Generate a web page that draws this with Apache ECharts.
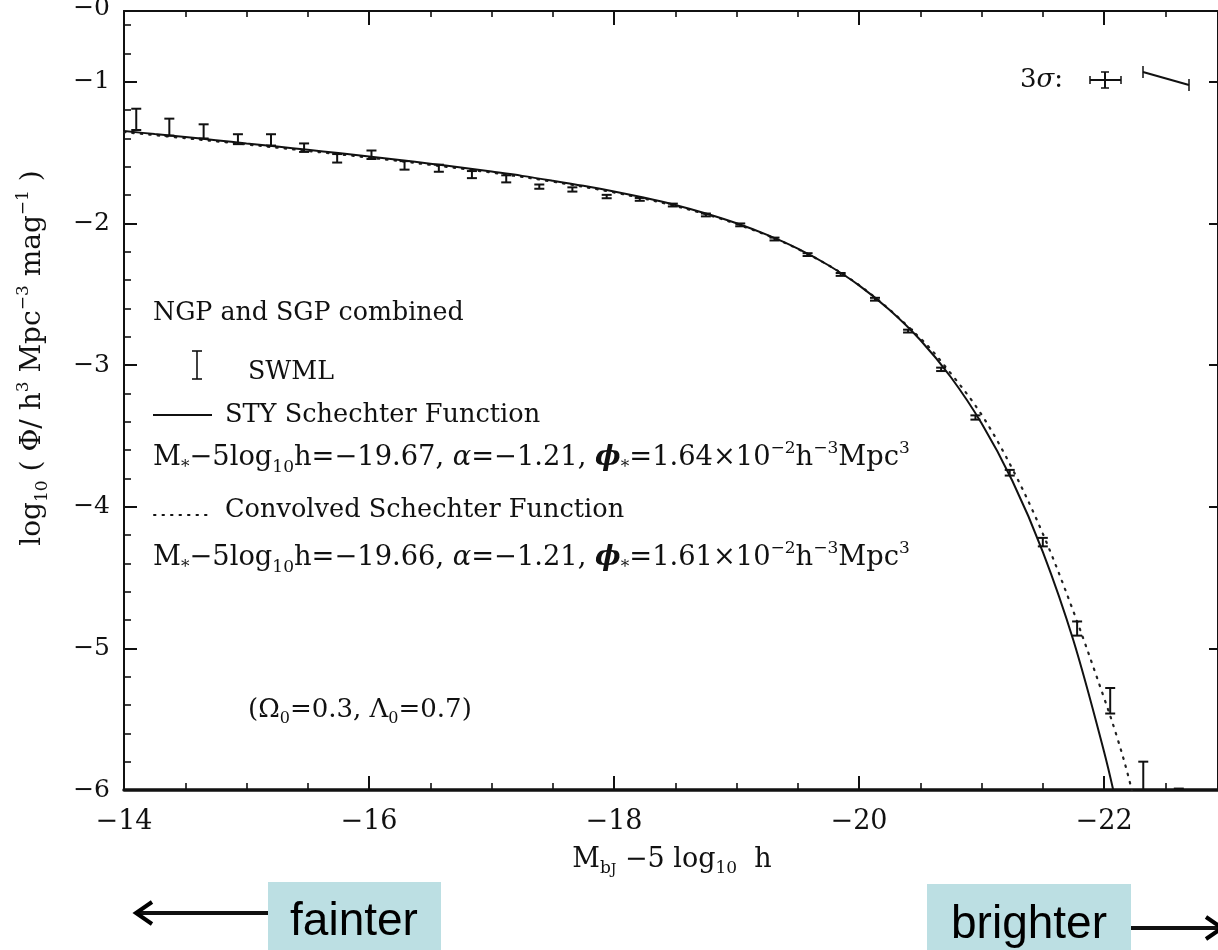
<!DOCTYPE html>
<html>
<head>
<meta charset="utf-8">
<title>2dFGRS b_J luminosity function</title>
<script src="https://cdn.jsdelivr.net/npm/echarts@6/dist/echarts.min.js"></script>
<style>
  html, body { margin: 0; padding: 0; background: #ffffff; }
  #chart { width: 1218px; height: 950px; }
</style>
</head>
<body>
<div id="chart"></div>
<script>
// ---- SWML estimate: bin magnitude, log10 Phi and its 1-sigma error ----
const swmlMag = [-14.10, -14.37, -14.65, -14.93, -15.20, -15.47, -15.74, -16.02,
                 -16.29, -16.57, -16.84, -17.12, -17.39, -17.66, -17.94, -18.21,
                 -18.48, -18.75, -19.03, -19.31, -19.58, -19.85, -20.13, -20.40,
                 -20.67, -20.95, -21.23, -21.50, -21.78, -22.05, -22.32, -22.61];
const swmlLogPhi = [-1.265, -1.32, -1.35, -1.405, -1.41, -1.465, -1.54, -1.515,
                    -1.59, -1.61, -1.655, -1.685, -1.74, -1.76, -1.81, -1.83,
                    -1.87, -1.94, -2.01, -2.11, -2.22, -2.36, -2.535, -2.76,
                    -3.03, -3.37, -3.76, -4.25, -4.86, -5.37, -5.93, -6.08];
const swmlErr = [0.075, 0.06, 0.05, 0.035, 0.04, 0.03, 0.03, 0.03,
                 0.03, 0.025, 0.025, 0.025, 0.015, 0.015, 0.012, 0.01,
                 0.01, 0.01, 0.01, 0.01, 0.01, 0.01, 0.01, 0.01,
                 0.012, 0.015, 0.02, 0.03, 0.05, 0.09, 0.13, 0.09];

// ---- STY Schechter fit (solid) ----
const styMag = [-14, -14.25, -14.5, -14.75, -15, -15.25, -15.5, -15.75, -16, -16.25,
                -16.5, -16.75, -17, -17.25, -17.5, -17.75, -18, -18.25, -18.5, -18.75,
                -19, -19.25, -19.5, -19.75, -20, -20.25, -20.5, -20.75, -21, -21.25,
                -21.5, -21.75, -22, -22.1];
const styLogPhi = [-1.347, -1.369, -1.390, -1.412, -1.435, -1.457, -1.480, -1.503, -1.527, -1.552,
                   -1.578, -1.605, -1.634, -1.664, -1.698, -1.734, -1.774, -1.819, -1.870, -1.930,
                   -1.999, -2.081, -2.178, -2.295, -2.437, -2.611, -2.823, -3.086, -3.411, -3.815,
                   -4.318, -4.945, -5.730, -6.097];

// ---- Convolved Schechter function (dotted) ----
const convMag = [-14, -14.5, -15, -15.5, -16, -16.5, -17, -17.5, -18, -18.5,
                 -19, -19.5, -20, -20.5, -20.75, -21, -21.25, -21.5, -21.75, -22,
                 -22.1, -22.2, -22.3];
const convLogPhi = [-1.355, -1.398, -1.442, -1.488, -1.535, -1.586, -1.641, -1.705, -1.781, -1.877,
                    -2.004, -2.180, -2.435, -2.81, -3.06, -3.35, -3.73, -4.19, -4.74, -5.35,
                    -5.61, -5.91, -6.28];

// ---- axis ticks ----
const xMajorTicks = [-14, -16, -18, -20, -22];
const xMinorTicks = [-14.5, -15, -15.5, -16.5, -17, -17.5, -18.5, -19, -19.5,
                     -20.5, -21, -21.5, -22.5];
const yMajorTicks = [-6, -5, -4, -3, -2, -1];
const yMinorTicks = [-5.8, -5.6, -5.4, -5.2, -4.8, -4.6, -4.4, -4.2, -3.8, -3.6, -3.4, -3.2,
                     -2.8, -2.6, -2.4, -2.2, -1.8, -1.6, -1.4, -1.2, -0.8, -0.6];

const X_MIN = -22.93, X_MAX = -14, Y_MIN = -6, Y_MAX = -0.5;
const INK = '#111111';
const SERIF = '"DejaVu Serif", "Liberation Serif", serif';
const minus = v => (v < 0 ? '\u2212' + Math.abs(v) : String(v));

// rich-text styles for sub/superscripts at a given base size
function richStyles(size) {
  const small = Math.round(size * 0.62);
  return {
    n: { fontFamily: SERIF, fontSize: size, lineHeight: size + 8, fill: INK, color: INK },
    i: { fontFamily: SERIF, fontSize: size, lineHeight: size + 8, fontStyle: 'italic', fill: INK, color: INK },
    b: { fontFamily: SERIF, fontSize: size, lineHeight: size + 8, fontStyle: 'italic', fontWeight: 'bold', fill: INK, color: INK },
    sub: { fontFamily: SERIF, fontSize: small, lineHeight: small, verticalAlign: 'bottom', fill: INK, color: INK },
    sup: { fontFamily: SERIF, fontSize: small, lineHeight: small + 6, verticalAlign: 'top', fill: INK, color: INK },
    ssub: { fontFamily: SERIF, fontSize: Math.round(small * 0.8), lineHeight: 4, verticalAlign: 'bottom', fill: INK, color: INK }
  };
}

function textEl(x, y, text, size, extra) {
  return Object.assign({
    type: 'text', x: x, y: y, silent: true,
    style: Object.assign({
      text: text, rich: richStyles(size),
      font: size + 'px ' + SERIF, fill: INK,
      align: 'left', verticalAlign: 'middle'
    }, (extra && extra.style) || {})
  }, (extra && extra.el) || {});
}
function seg(x1, y1, x2, y2, w, dash) {
  const st = { stroke: INK, lineWidth: w || 2 };
  if (dash) { st.lineDash = dash; st.lineCap = 'round'; }
  return { type: 'line', silent: true, shape: { x1: x1, y1: y1, x2: x2, y2: y2 }, style: st };
}

const chart = echarts.init(document.getElementById('chart'), null, { renderer: 'canvas' });

const baseX = { type: 'value', min: X_MIN, max: X_MAX, inverse: true, splitLine: { show: false } };
const baseY = { type: 'value', min: Y_MIN, max: Y_MAX, splitLine: { show: false } };

const graphicEls = [
  // clipped tick label at the very top of the frame
  textEl(110, 8, '\u22120', 25, { style: { align: 'right' } }),

  // y-axis title
  textEl(33, 358,
    '{n|log}{sub|10}{n| ( \u03A6/ h}{sup|3}{n| Mpc}{sup|\u22123}{n| mag}{sup|\u22121}{n| )}', 28,
    { style: { align: 'center' }, el: { rotation: Math.PI / 2 } }),

  // x-axis title
  textEl(672, 860,
    '{n|M}{sub|b}{ssub|J}{n| \u22125 log}{sub|10}{n|  h}', 27, { style: { align: 'center' } }),

  // legend block
  textEl(153, 313, '{n|NGP and SGP combined}', 25.3),
  seg(197, 351, 197, 379, 1.6), seg(192, 351, 202, 351, 1.6), seg(192, 379, 202, 379, 1.6),
  textEl(248, 372, '{n|SWML}', 25.3),
  seg(153, 415, 212, 415, 2),
  textEl(225, 415, '{n|STY Schechter Function}', 25.6),
  textEl(153, 458,
    '{n|M}{sub|*}{n|\u22125log}{sub|10}{n|h=\u221219.67, }{i|\u03B1}{n|=\u22121.21, }{b|\u03D5}{sub|*}{n|=1.64\u00D710}{sup|\u22122}{n|h}{sup|\u22123}{n|Mpc}{sup|3}', 27.3),
  seg(154, 515, 212, 515, 2, [1.5, 7]),
  textEl(225, 510, '{n|Convolved Schechter Function}', 25.6),
  textEl(153, 558,
    '{n|M}{sub|*}{n|\u22125log}{sub|10}{n|h=\u221219.66, }{i|\u03B1}{n|=\u22121.21, }{b|\u03D5}{sub|*}{n|=1.61\u00D710}{sup|\u22122}{n|h}{sup|\u22123}{n|Mpc}{sup|3}', 27.3),
  textEl(248, 710, '{n|(\u03A9}{sub|0}{n|=0.3, \u039B}{sub|0}{n|=0.7)}', 26),

  // 3-sigma systematic error glyphs
  textEl(1020, 80, '{n|3}{i|\u03C3}{n|:}', 26),
  seg(1090, 80, 1121, 80, 2), seg(1090, 76, 1090, 84, 1.5), seg(1121, 76, 1121, 84, 1.5),
  seg(1105, 72, 1105, 88, 2), seg(1101, 72, 1109, 72, 1.5), seg(1101, 88, 1109, 88, 1.5),
  seg(1143, 72, 1189, 85, 2), seg(1143, 66, 1143, 78, 1.5), seg(1189, 79, 1189, 91, 1.5),

  // direction hints below the axis
  { type: 'rect', silent: true, shape: { x: 268, y: 882, width: 173, height: 80 }, style: { fill: '#bcdfe3' } },
  { type: 'rect', silent: true, shape: { x: 927, y: 884, width: 204, height: 80 }, style: { fill: '#bcdfe3' } },
  { type: 'text', silent: true, x: 354, y: 922, style: { text: 'fainter', font: '46px "Liberation Sans", Arial, sans-serif', fill: '#000', align: 'center', verticalAlign: 'middle' } },
  { type: 'text', silent: true, x: 1029, y: 925, style: { text: 'brighter', font: '46px "Liberation Sans", Arial, sans-serif', fill: '#000', align: 'center', verticalAlign: 'middle' } },
  seg(268, 913, 137, 913, 4),
  { type: 'polyline', silent: true, shape: { points: [[152, 902], [136, 913], [152, 924]] }, style: { stroke: '#000', lineWidth: 4, fill: null } },
  seg(1131, 928, 1218, 928, 4),
  { type: 'polyline', silent: true, shape: { points: [[1206, 917], [1222, 928], [1206, 939]] }, style: { stroke: '#000', lineWidth: 4, fill: null } }
];

const option = {
  animation: false,
  backgroundColor: '#ffffff',
  grid: { left: 124, top: 11, width: 1095, height: 779, containLabel: false },
  xAxis: [
    Object.assign({}, baseX, {
      position: 'bottom',
      axisLine: { show: true, onZero: false, lineStyle: { color: INK, width: 3.5 } },
      axisTick: { show: true, inside: true, length: 14, customValues: xMajorTicks, lineStyle: { color: INK, width: 2 } },
      axisLabel: { show: true, customValues: xMajorTicks, formatter: minus, margin: 18,
                   color: INK, fontFamily: SERIF, fontSize: 27 }
    }),
    Object.assign({}, baseX, {
      position: 'bottom',
      axisLine: { show: false, onZero: false },
      axisTick: { show: true, inside: true, length: 7, customValues: xMinorTicks, lineStyle: { color: INK, width: 1.6 } },
      axisLabel: { show: false }
    }),
    Object.assign({}, baseX, {
      position: 'top',
      axisLine: { show: true, onZero: false, lineStyle: { color: INK, width: 2.2 } },
      axisTick: { show: true, inside: true, length: 14, customValues: xMajorTicks, lineStyle: { color: INK, width: 2 } },
      axisLabel: { show: false }
    }),
    Object.assign({}, baseX, {
      position: 'top',
      axisLine: { show: false, onZero: false },
      axisTick: { show: true, inside: true, length: 6, customValues: xMinorTicks, lineStyle: { color: INK, width: 1.6 } },
      axisLabel: { show: false }
    })
  ],
  yAxis: [
    Object.assign({}, baseY, {
      position: 'left',
      axisLine: { show: true, onZero: false, lineStyle: { color: INK, width: 2 } },
      axisTick: { show: true, inside: true, length: 13, customValues: yMajorTicks, lineStyle: { color: INK, width: 2 } },
      axisLabel: { show: true, customValues: yMajorTicks, formatter: minus, margin: 14,
                   color: INK, fontFamily: SERIF, fontSize: 25 }
    }),
    Object.assign({}, baseY, {
      position: 'left',
      axisLine: { show: false, onZero: false },
      axisTick: { show: true, inside: true, length: 7, customValues: yMinorTicks, lineStyle: { color: INK, width: 1.6 } },
      axisLabel: { show: false }
    }),
    Object.assign({}, baseY, {
      position: 'right',
      axisLine: { show: true, onZero: false, lineStyle: { color: INK, width: 2 } },
      axisTick: { show: true, inside: true, length: 9, customValues: yMajorTicks, lineStyle: { color: INK, width: 2 } },
      axisLabel: { show: false }
    })
  ],
  series: [
    {
      name: 'STY Schechter Function', type: 'line', xAxisIndex: 0, yAxisIndex: 0,
      data: styMag.map((m, i) => [m, styLogPhi[i]]),
      showSymbol: false, smooth: 0.35, clip: true, z: 3,
      lineStyle: { color: INK, width: 2 }
    },
    {
      name: 'Convolved Schechter Function', type: 'line', xAxisIndex: 0, yAxisIndex: 0,
      data: convMag.map((m, i) => [m, convLogPhi[i]]),
      showSymbol: false, smooth: 0.35, clip: true, z: 2,
      lineStyle: { color: '#222', width: 2.2, type: [1.5, 7], cap: 'round' }
    },
    {
      name: 'SWML', type: 'custom', xAxisIndex: 0, yAxisIndex: 0, clip: true, z: 4,
      data: swmlMag.map((m, i) => [m, swmlLogPhi[i] - swmlErr[i], swmlLogPhi[i] + swmlErr[i]]),
      renderItem: function (params, api) {
        const lo = api.coord([api.value(0), api.value(1)]);
        const hi = api.coord([api.value(0), api.value(2)]);
        const hw = 5;
        const st = { stroke: INK, lineWidth: 2 };
        return {
          type: 'group',
          children: [
            { type: 'line', shape: { x1: lo[0], y1: lo[1], x2: hi[0], y2: hi[1] }, style: st },
            { type: 'line', shape: { x1: hi[0] - hw, y1: hi[1], x2: hi[0] + hw, y2: hi[1] }, style: st },
            { type: 'line', shape: { x1: lo[0] - hw, y1: lo[1], x2: lo[0] + hw, y2: lo[1] }, style: st }
          ]
        };
      }
    }
  ],
  graphic: { elements: graphicEls }
};

chart.setOption(option);
</script>
</body>
</html>
